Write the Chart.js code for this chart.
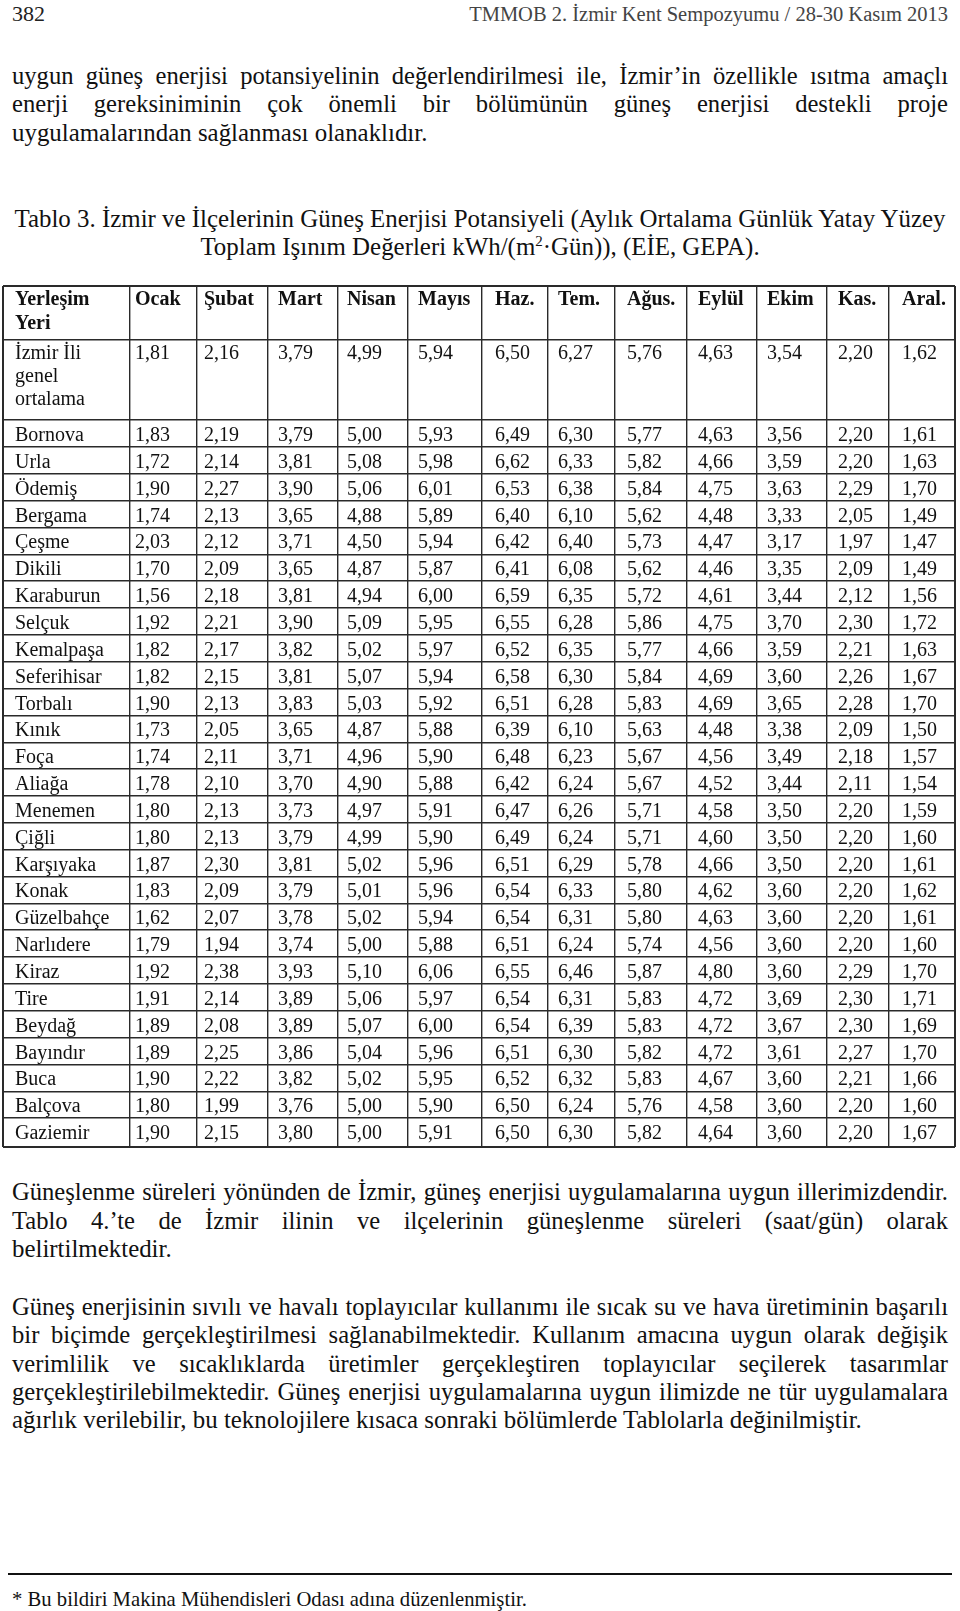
<!DOCTYPE html>
<html lang="tr">
<head>
<meta charset="utf-8">
<title>Tablo 3 - İzmir Güneş Enerjisi Potansiyeli</title>
<script src="https://cdn.jsdelivr.net/npm/chart.js@4.4.0/dist/chart.umd.min.js"></script>
<style>
  html, body { margin: 0; padding: 0; background: #fff; }
  body { width: 960px; height: 1611px; position: relative; overflow: hidden;
         font-family: "Liberation Serif", "DejaVu Serif", serif; color: #111; }
  .ln { position: absolute; left: 12px; width: 936px; font-size: 24.9px; line-height: 28.3px; }
  .j { text-align: justify; text-align-last: justify; font-size: 24.6px; }
  .c { text-align: center; white-space: nowrap; }
  .l { white-space: nowrap; }
  sup { font-size: 15px; line-height: 0; vertical-align: 9px; }
  #pageNo { position: absolute; left: 12px; top: 1px; font-size: 22px; line-height: 26px; color: #222; }
  #runHead { position: absolute; right: 12px; top: 1px; font-size: 20.5px; line-height: 26px; color: #444; white-space: nowrap; }
  #rule { position: absolute; left: 8px; top: 1573px; width: 944px; height: 2px; background: #111; }
  #foot { position: absolute; left: 12px; top: 1587px; font-size: 20.7px; line-height: 24px; white-space: nowrap; }
  #tableBox { position: absolute; left: 1px; top: 284px; width: 956px; height: 865px; }
  #tablo { display: block; }
</style>
</head>
<body>

<div id="pageNo">382</div>
<div id="runHead">TMMOB 2. İzmir Kent Sempozyumu / 28-30 Kasım 2013</div>

<div class="ln j" style="top:62px">uygun güneş enerjisi potansiyelinin değerlendirilmesi ile, İzmir’in özellikle ısıtma amaçlı</div>
<div class="ln j" style="top:90.3px">enerji gereksiniminin çok önemli bir bölümünün güneş enerjisi destekli proje</div>
<div class="ln l" style="top:118.6px">uygulamalarından sağlanması olanaklıdır.</div>

<div class="ln c" style="top:205px">Tablo 3. İzmir ve İlçelerinin Güneş Enerjisi Potansiyeli (Aylık Ortalama Günlük Yatay Yüzey</div>
<div class="ln c" style="top:232.8px">Toplam Işınım Değerleri kWh/(m<sup>2</sup>·Gün)), (EİE, GEPA).</div>

<div id="tableBox"><canvas id="tablo" width="956" height="865"></canvas></div>

<div class="ln j" style="top:1178.3px">Güneşlenme süreleri yönünden de İzmir, güneş enerjisi uygulamalarına uygun illerimizdendir.</div>
<div class="ln j" style="top:1206.6px">Tablo 4.’te de İzmir ilinin ve ilçelerinin güneşlenme süreleri (saat/gün) olarak</div>
<div class="ln l" style="top:1234.9px">belirtilmektedir.</div>

<div class="ln j" style="top:1293px">Güneş enerjisinin sıvılı ve havalı toplayıcılar kullanımı ile sıcak su ve hava üretiminin başarılı</div>
<div class="ln j" style="top:1321.3px">bir biçimde gerçekleştirilmesi sağlanabilmektedir. Kullanım amacına uygun olarak değişik</div>
<div class="ln j" style="top:1349.6px">verimlilik ve sıcaklıklarda üretimler gerçekleştiren toplayıcılar seçilerek tasarımlar</div>
<div class="ln j" style="top:1377.9px">gerçekleştirilebilmektedir. Güneş enerjisi uygulamalarına uygun ilimizde ne tür uygulamalara</div>
<div class="ln l" style="top:1406.2px">ağırlık verilebilir, bu teknolojilere kısaca sonraki bölümlerde Tablolarla değinilmiştir.</div>

<div id="rule"></div>
<div id="foot">* Bu bildiri Makina Mühendisleri Odası adına düzenlenmiştir.</div>

<script>
// Months (column headers) and places (row headers)
const months = ['Ocak', 'Şubat', 'Mart', 'Nisan', 'Mayıs', 'Haz.', 'Tem.', 'Ağus.', 'Eylül', 'Ekim', 'Kas.', 'Aral.']
const places = ['Bornova', 'Urla', 'Ödemiş', 'Bergama', 'Çeşme', 'Dikili', 'Karaburun', 'Selçuk', 'Kemalpaşa',
  'Seferihisar', 'Torbalı', 'Kınık', 'Foça', 'Aliağa', 'Menemen', 'Çiğli', 'Karşıyaka', 'Konak', 'Güzelbahçe',
  'Narlıdere', 'Kiraz', 'Tire', 'Beydağ', 'Bayındır', 'Buca', 'Balçova', 'Gaziemir']

// kWh/(m2·gün), one array per row of the table
const izmirOrtalama = [1.81, 2.16, 3.79, 4.99, 5.94, 6.50, 6.27, 5.76, 4.63, 3.54, 2.20, 1.62]
const bornova     = [1.83, 2.19, 3.79, 5.00, 5.93, 6.49, 6.30, 5.77, 4.63, 3.56, 2.20, 1.61]
const urla        = [1.72, 2.14, 3.81, 5.08, 5.98, 6.62, 6.33, 5.82, 4.66, 3.59, 2.20, 1.63]
const odemis      = [1.90, 2.27, 3.90, 5.06, 6.01, 6.53, 6.38, 5.84, 4.75, 3.63, 2.29, 1.70]
const bergama     = [1.74, 2.13, 3.65, 4.88, 5.89, 6.40, 6.10, 5.62, 4.48, 3.33, 2.05, 1.49]
const cesme       = [2.03, 2.12, 3.71, 4.50, 5.94, 6.42, 6.40, 5.73, 4.47, 3.17, 1.97, 1.47]
const dikili      = [1.70, 2.09, 3.65, 4.87, 5.87, 6.41, 6.08, 5.62, 4.46, 3.35, 2.09, 1.49]
const karaburun   = [1.56, 2.18, 3.81, 4.94, 6.00, 6.59, 6.35, 5.72, 4.61, 3.44, 2.12, 1.56]
const selcuk      = [1.92, 2.21, 3.90, 5.09, 5.95, 6.55, 6.28, 5.86, 4.75, 3.70, 2.30, 1.72]
const kemalpasa   = [1.82, 2.17, 3.82, 5.02, 5.97, 6.52, 6.35, 5.77, 4.66, 3.59, 2.21, 1.63]
const seferihisar = [1.82, 2.15, 3.81, 5.07, 5.94, 6.58, 6.30, 5.84, 4.69, 3.60, 2.26, 1.67]
const torbali     = [1.90, 2.13, 3.83, 5.03, 5.92, 6.51, 6.28, 5.83, 4.69, 3.65, 2.28, 1.70]
const kinik       = [1.73, 2.05, 3.65, 4.87, 5.88, 6.39, 6.10, 5.63, 4.48, 3.38, 2.09, 1.50]
const foca        = [1.74, 2.11, 3.71, 4.96, 5.90, 6.48, 6.23, 5.67, 4.56, 3.49, 2.18, 1.57]
const aliaga      = [1.78, 2.10, 3.70, 4.90, 5.88, 6.42, 6.24, 5.67, 4.52, 3.44, 2.11, 1.54]
const menemen     = [1.80, 2.13, 3.73, 4.97, 5.91, 6.47, 6.26, 5.71, 4.58, 3.50, 2.20, 1.59]
const cigli       = [1.80, 2.13, 3.79, 4.99, 5.90, 6.49, 6.24, 5.71, 4.60, 3.50, 2.20, 1.60]
const karsiyaka   = [1.87, 2.30, 3.81, 5.02, 5.96, 6.51, 6.29, 5.78, 4.66, 3.50, 2.20, 1.61]
const konak       = [1.83, 2.09, 3.79, 5.01, 5.96, 6.54, 6.33, 5.80, 4.62, 3.60, 2.20, 1.62]
const guzelbahce  = [1.62, 2.07, 3.78, 5.02, 5.94, 6.54, 6.31, 5.80, 4.63, 3.60, 2.20, 1.61]
const narlidere   = [1.79, 1.94, 3.74, 5.00, 5.88, 6.51, 6.24, 5.74, 4.56, 3.60, 2.20, 1.60]
const kiraz       = [1.92, 2.38, 3.93, 5.10, 6.06, 6.55, 6.46, 5.87, 4.80, 3.60, 2.29, 1.70]
const tire        = [1.91, 2.14, 3.89, 5.06, 5.97, 6.54, 6.31, 5.83, 4.72, 3.69, 2.30, 1.71]
const beydag      = [1.89, 2.08, 3.89, 5.07, 6.00, 6.54, 6.39, 5.83, 4.72, 3.67, 2.30, 1.69]
const bayindir    = [1.89, 2.25, 3.86, 5.04, 5.96, 6.51, 6.30, 5.82, 4.72, 3.61, 2.27, 1.70]
const buca        = [1.90, 2.22, 3.82, 5.02, 5.95, 6.52, 6.32, 5.83, 4.67, 3.60, 2.21, 1.66]
const balcova     = [1.80, 1.99, 3.76, 5.00, 5.90, 6.50, 6.24, 5.76, 4.58, 3.60, 2.20, 1.60]
const gaziemir    = [1.90, 2.15, 3.80, 5.00, 5.91, 6.50, 6.30, 5.82, 4.64, 3.60, 2.20, 1.67]

const rows = [bornova, urla, odemis, bergama, cesme, dikili, karaburun, selcuk, kemalpasa, seferihisar,
  torbali, kinik, foca, aliaga, menemen, cigli, karsiyaka, konak, guzelbahce, narlidere, kiraz, tire,
  beydag, bayindir, buca, balcova, gaziemir]

// Layout of the table, in page pixels (the scales run in page units)
const colEdges = [3, 130, 197, 268, 338, 408, 482, 548, 615, 687, 757, 827, 889, 955]
const textX = [15, 135, 204, 278, 347, 418, 495, 558, 627, 698, 767, 838, 902]
const rowPitch = 26.85
const firstRowTop = 420
const rowEdges = [286, 340, firstRowTop]
for (let i = 1; i < rows.length; i++) rowEdges.push(firstRowTop + i * rowPitch)
rowEdges.push(1147)

const fmt = v => v.toFixed(2).replace('.', ',')
const FONT = '"Liberation Serif", "Times New Roman", serif'

// Writes the cell texts on top of the grid drawn by the scales
const cellText = {
  id: 'cellText',
  afterDraw(chart) {
    const { ctx, scales: { x, y } } = chart
    ctx.save()
    ctx.fillStyle = '#111'
    ctx.textAlign = 'left'
    ctx.textBaseline = 'alphabetic'

    // header row
    ctx.font = 'bold 20px ' + FONT
    ctx.fillText('Yerleşim', x.getPixelForValue(textX[0]), y.getPixelForValue(305))
    ctx.fillText('Yeri', x.getPixelForValue(textX[0]), y.getPixelForValue(329))
    months.forEach((m, j) => {
      ctx.fillText(m, x.getPixelForValue(textX[j + 1]), y.getPixelForValue(305))
    })

    // İzmir average row (three lines in the first cell)
    ctx.font = '20px ' + FONT
    ctx.fillText('İzmir İli', x.getPixelForValue(textX[0]), y.getPixelForValue(359))
    ctx.fillText('genel', x.getPixelForValue(textX[0]), y.getPixelForValue(382))
    ctx.fillText('ortalama', x.getPixelForValue(textX[0]), y.getPixelForValue(405))
    izmirOrtalama.forEach((v, j) => {
      ctx.fillText(fmt(v), x.getPixelForValue(textX[j + 1]), y.getPixelForValue(359))
    })

    // districts
    rows.forEach((r, i) => {
      const base = y.getPixelForValue(rowEdges[i + 2] + 21)
      ctx.fillText(places[i], x.getPixelForValue(textX[0]), base)
      r.forEach((v, j) => {
        ctx.fillText(fmt(v), x.getPixelForValue(textX[j + 1]), base)
      })
    })
    ctx.restore()
  }
}

const gridLine = (edges) => ({
  color: '#2a2a2a',
  lineWidth: c => (c.index === 0 || c.index === edges.length - 1) ? 2 : 1.4,
  drawTicks: false
})

new Chart(document.getElementById('tablo'), {
  type: 'scatter',
  data: { datasets: [] },
  plugins: [cellText],
  options: {
    responsive: false,
    animation: false,
    events: [],
    layout: { padding: 2 },
    plugins: { legend: { display: false }, tooltip: { enabled: false } },
    scales: {
      x: {
        type: 'linear', min: colEdges[0], max: colEdges[colEdges.length - 1],
        ticks: { display: false },
        border: { display: false },
        grid: gridLine(colEdges),
        afterBuildTicks: s => { s.ticks = colEdges.map(v => ({ value: v })) }
      },
      y: {
        type: 'linear', min: rowEdges[0], max: rowEdges[rowEdges.length - 1], reverse: true,
        ticks: { display: false },
        border: { display: false },
        grid: gridLine(rowEdges),
        afterBuildTicks: s => { s.ticks = rowEdges.map(v => ({ value: v })) }
      }
    }
  }
})
</script>
</body>
</html>
